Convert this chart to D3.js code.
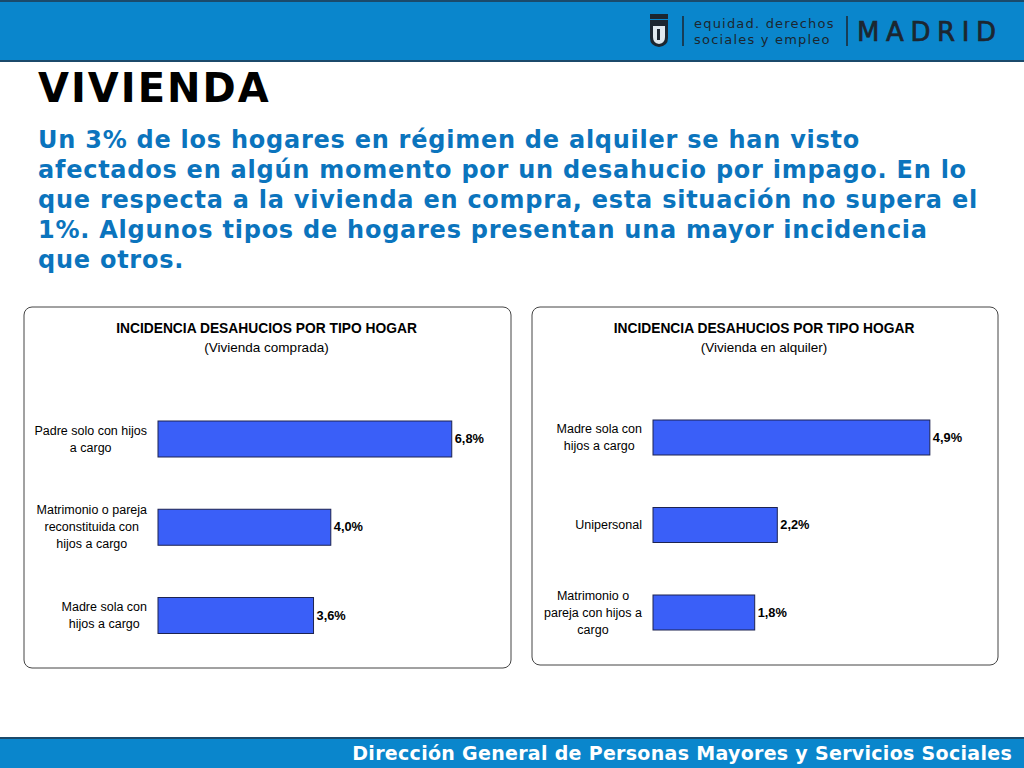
<!DOCTYPE html>
<html lang="es">
<head>
  <meta charset="UTF-8" />
  <title>Vivienda - incidencia desahucios</title>
  <script src="https://d3js.org/d3.v7.min.js"></script>
  <style>
    body { margin: 0; padding: 0; background: #fff; }
    svg { display: block; }
    .head-text { font-family: 'DejaVu Sans', Verdana, sans-serif; font-weight: bold; }
    .chart-title { font-family: 'Liberation Sans', Arial, sans-serif; font-size: 13.8px; font-weight: bold; fill: #000; }
    .chart-sub { font-family: 'Liberation Sans', Arial, sans-serif; font-size: 13.5px; fill: #000; }
    .cat { font-family: 'Liberation Sans', Arial, sans-serif; font-size: 12.5px; fill: #000; }
    .val { font-family: 'Liberation Sans', Arial, sans-serif; font-size: 12.8px; font-weight: bold; fill: #000; }
  </style>
</head>
<body>
  <div id="chart"></div>

  <script>
    // vivienda comprada
    const compradaCats = [
      ["Padre solo con hijos", "a cargo"],
      ["Matrimonio o pareja", "reconstituida con", "hijos a cargo"],
      ["Madre sola con", "hijos a cargo"]
    ];
    const compradaVals = [6.8, 4.0, 3.6];

    // vivienda en alquiler
    const alquilerCats = [
      ["Madre sola con", "hijos a cargo"],
      ["Unipersonal"],
      ["Matrimonio o", "pareja con hijos a", "cargo"]
    ];
    const alquilerVals = [4.9, 2.2, 1.8];

    const introLines = [
      "Un 3% de los hogares en régimen de alquiler se han visto",
      "afectados en algún momento por un desahucio por impago. En lo",
      "que respecta a la vivienda en compra, esta situación no supera el",
      "1%. Algunos tipos de hogares presentan una mayor incidencia",
      "que otros."
    ];

    const W = 1024, H = 768;
    const blue = "#0a86cc";
    const fmt = d3.formatLocale({ decimal: ",", thousands: ".", grouping: [3], currency: ["", "€"] }).format(".1f");

    const svg = d3.select("#chart").append("svg").attr("width", W).attr("height", H);

    // header bar
    svg.append("rect").attr("x", 0).attr("y", 0).attr("width", W).attr("height", 61).attr("fill", blue);
    svg.append("line").attr("x1", 0).attr("x2", W).attr("y1", 1).attr("y2", 1).attr("stroke", "#1b4a6b").attr("stroke-width", 2);
    svg.append("line").attr("x1", 0).attr("x2", W).attr("y1", 61).attr("y2", 61).attr("stroke", "#1b4a6b").attr("stroke-width", 2);

    // logo: crest + texts
    const logo = svg.append("g").attr("fill", "#1c2630");
    logo.append("path").attr("d", "M650,20 H668 V38 Q668,46 659,47 Q650,46 650,38 Z").attr("fill", "#1c2630");
    logo.append("path").attr("d", "M653,26 H665 V37 Q665,43 659,44 Q653,43 653,37 Z").attr("fill", "#dfe8ee");
    logo.append("rect").attr("x", 657).attr("y", 29).attr("width", 3).attr("height", 11).attr("fill", "#1c2630");
    logo.append("rect").attr("x", 650).attr("y", 14).attr("width", 18).attr("height", 5).attr("fill", "#1c2630");
    logo.append("line").attr("x1", 683).attr("x2", 683).attr("y1", 16).attr("y2", 46).attr("stroke", "#1c2630").attr("stroke-width", 1.5);
    logo.append("text").attr("x", 694).attr("y", 28).attr("font-family", "'DejaVu Sans', sans-serif")
      .attr("font-size", 13).attr("letter-spacing", 1.2).text("equidad. derechos");
    logo.append("text").attr("x", 694).attr("y", 44).attr("font-family", "'DejaVu Sans', sans-serif")
      .attr("font-size", 13).attr("letter-spacing", 1.2).text("sociales y empleo");
    logo.append("line").attr("x1", 847).attr("x2", 847).attr("y1", 16).attr("y2", 46).attr("stroke", "#1c2630").attr("stroke-width", 1.5);
    logo.append("text").attr("x", 857).attr("y", 41).attr("font-family", "'DejaVu Sans', sans-serif")
      .attr("font-size", 26).attr("letter-spacing", 2).attr("textLength", 141)
      .attr("stroke", "#1c2630").attr("stroke-width", 0.7).text("MADRID");

    // footer bar
    svg.append("rect").attr("x", 0).attr("y", 738).attr("width", W).attr("height", 30).attr("fill", blue);
    svg.append("line").attr("x1", 0).attr("x2", W).attr("y1", 738).attr("y2", 738).attr("stroke", "#1b4a6b").attr("stroke-width", 2);
    svg.append("text").attr("class", "head-text").attr("x", 1012).attr("y", 760).attr("text-anchor", "end")
      .attr("font-size", 19).attr("letter-spacing", 0.3).attr("fill", "#fff")
      .text("Dirección General de Personas Mayores y Servicios Sociales");

    // title + intro
    svg.append("text").attr("class", "head-text").attr("x", 38).attr("y", 102)
      .attr("font-size", 40).attr("letter-spacing", 2).attr("fill", "#000").text("VIVIENDA");
    svg.append("g").selectAll("text").data(introLines).join("text")
      .attr("class", "head-text")
      .attr("x", 38).attr("y", (d, i) => 148 + i * 30)
      .attr("font-size", 24).attr("letter-spacing", 0.75).attr("fill", "#0b74bd")
      .text(d => d);

    function panel(cfg) {
      const g = svg.append("g");
      g.append("rect").attr("x", cfg.box[0]).attr("y", cfg.box[1])
        .attr("width", cfg.box[2]).attr("height", cfg.box[3]).attr("rx", 8)
        .attr("fill", "#fff").attr("stroke", "#444").attr("stroke-width", 1);

      const cx = cfg.box[0] + cfg.box[2] / 2 - 1;
      g.append("text").attr("class", "chart-title").attr("x", cx).attr("y", cfg.box[1] + 26)
        .attr("text-anchor", "middle").text("INCIDENCIA DESAHUCIOS POR TIPO HOGAR");
      g.append("text").attr("class", "chart-sub").attr("x", cx).attr("y", cfg.box[1] + 45)
        .attr("text-anchor", "middle").text(cfg.sub);

      const x = d3.scaleLinear().domain(cfg.xDomain).range(cfg.xRange);
      const y = d3.scalePoint().domain(d3.range(cfg.vals.length)).range(cfg.yRange);
      const bh = cfg.barH;

      g.selectAll("rect.bar").data(cfg.vals).join("rect")
        .attr("class", "bar")
        .attr("x", x(0))
        .attr("y", (d, i) => y(i) - bh / 2)
        .attr("width", d => x(d) - x(0))
        .attr("height", bh)
        .attr("fill", "#3a5ff8")
        .attr("stroke", "#1d2350")
        .attr("stroke-width", 1);

      g.selectAll("text.val").data(cfg.vals).join("text")
        .attr("class", "val")
        .attr("x", d => x(d) + 3)
        .attr("y", (d, i) => y(i) + 4)
        .text(d => fmt(d) + "%");

      // wrapped category labels: block right aligned, lines centred
      cfg.cats.forEach((lines, i) => {
        const t = g.append("text").attr("class", "cat");
        const lh = 17;
        const y0 = y(i) - (lines.length - 1) * lh / 2 + 4;
        const spans = lines.map((l, j) => t.append("tspan").attr("y", y0 + j * lh).text(l));
        const maxW = d3.max(spans, s => s.node().getComputedTextLength());
        const mid = cfg.labelRight - maxW / 2;
        spans.forEach(s => s.attr("x", mid).attr("text-anchor", "middle"));
      });
    }

    panel({
      box: [24, 307, 487, 361],
      sub: "(Vivienda comprada)",
      cats: compradaCats, vals: compradaVals,
      xDomain: [0, 7], xRange: [158, 158 + 43.2 * 7],
      yRange: [439, 615.5], barH: 36,
      labelRight: 147
    });

    panel({
      box: [532, 307, 466, 358],
      sub: "(Vivienda en alquiler)",
      cats: alquilerCats, vals: alquilerVals,
      xDomain: [0, 5], xRange: [653, 653 + 56.5 * 5],
      yRange: [437.5, 612.5], barH: 35,
      labelRight: 642
    });
  </script>
</body>
</html>
